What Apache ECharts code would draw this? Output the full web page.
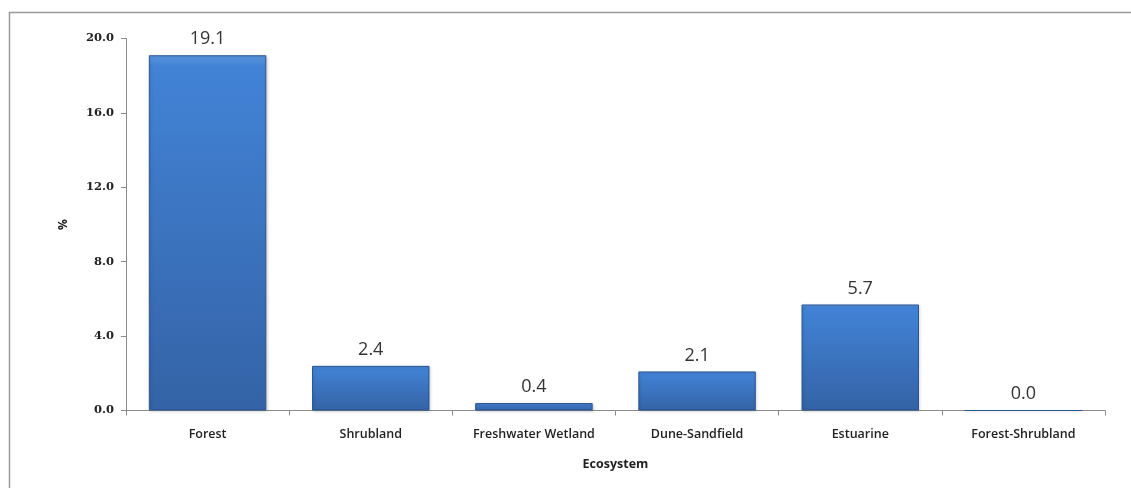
<!DOCTYPE html>
<html>
<head>
<meta charset="utf-8">
<script src="https://cdn.jsdelivr.net/npm/echarts@6/dist/echarts.min.js"></script>
<style>
html,body{margin:0;padding:0;background:#fff;}
#chart{width:1131px;height:488px;}
</style>
</head>
<body>
<div id="chart"></div>
<script>
// Share of each ecosystem type (%)
const categories = ['Forest', 'Shrubland', 'Freshwater Wetland', 'Dune-Sandfield', 'Estuarine', 'Forest-Shrubland'];
const values = [19.1, 2.4, 0.4, 2.1, 5.7, 0.0];
const yTicks = { min: 0, max: 20, interval: 4 };

const chart = echarts.init(document.getElementById('chart'), null, { renderer: 'canvas' });

const barFill = new echarts.graphic.LinearGradient(0, 0, 0, 1, [
  { offset: 0, color: '#5a96e0' },
  { offset: 0.03, color: '#4283d6' },
  { offset: 1, color: '#3463a6' }
]);

chart.setOption({
  animation: false,
  backgroundColor: '#ffffff',
  graphic: [{
    type: 'rect',
    shape: { x: 9.5, y: 12.5, width: 1200, height: 600 },
    style: { fill: 'none', stroke: '#9a9a9a', lineWidth: 1.5 },
    silent: true,
    z: -1
  }],
  grid: { left: 126, right: 26, top: 38.5, bottom: 77.5, containLabel: false },
  xAxis: {
    type: 'category',
    data: categories,
    name: 'Ecosystem',
    nameLocation: 'middle',
    nameGap: 47,
    nameTextStyle: { fontFamily: 'Open Sans', fontSize: 12.5, fontWeight: 'bold', color: '#222' },
    axisLine: { lineStyle: { color: '#8c8c8c', width: 1 } },
    axisTick: { show: true, alignWithLabel: false, length: 5, lineStyle: { color: '#8c8c8c' } },
    axisLabel: { fontFamily: 'Open Sans', fontSize: 12.5, fontWeight: 600, color: '#222', margin: 17 }
  },
  yAxis: {
    type: 'value',
    min: yTicks.min,
    max: yTicks.max,
    interval: yTicks.interval,
    name: '%',
    nameLocation: 'middle',
    nameRotate: 90,
    nameGap: 56,
    nameTextStyle: { fontFamily: 'Open Sans', fontSize: 12, fontWeight: 'bold', color: '#222' },
    splitLine: { show: false },
    axisLine: { show: true, lineStyle: { color: '#8c8c8c', width: 1 } },
    axisTick: { show: true, length: 5, lineStyle: { color: '#8c8c8c' } },
    axisLabel: {
      fontFamily: 'DejaVu Serif', fontSize: 11.5, fontWeight: 'bold', color: '#222', margin: 12,
      formatter: v => v.toFixed(1)
    }
  },
  series: [{
    type: 'bar',
    data: values,
    barCategoryGap: '28%',
    itemStyle: {
      color: barFill,
      borderColor: '#2c5791',
      borderWidth: 1,
      shadowColor: 'rgba(0,0,0,0.18)',
      shadowBlur: 3,
      shadowOffsetX: 1,
      shadowOffsetY: 1
    },
    label: {
      show: true,
      position: 'top',
      distance: 7,
      fontFamily: 'Open Sans',
      fontSize: 18,
      color: '#333',
      formatter: p => p.value.toFixed(1)
    }
  }]
});
</script>
</body>
</html>
